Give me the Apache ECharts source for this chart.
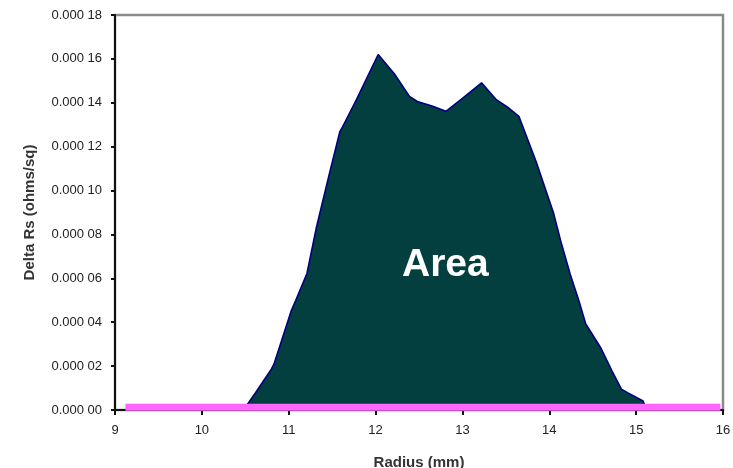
<!DOCTYPE html>
<html>
<head>
<meta charset="utf-8">
<script src="https://cdn.jsdelivr.net/npm/echarts@6/dist/echarts.min.js"></script>
<style>html,body{margin:0;padding:0;background:#fff}#c{width:733px;height:468px}</style>
</head>
<body>
<div id="c"></div>
<script>
// Radius (mm) and Delta Rs (ohms/sq)
const radius = [10.48, 10.62, 10.80, 10.83, 11.03, 11.08, 11.21, 11.32, 11.46, 11.59, 11.62, 11.77, 12.03, 12.22, 12.39, 12.48, 12.65, 12.81, 13.00, 13.22, 13.39, 13.52, 13.65, 13.85, 14.05, 14.13, 14.24, 14.34, 14.42, 14.59, 14.72, 14.83, 14.90, 15.08, 15.12];
const deltaRs = [0.0000000, 0.0000080, 0.0000186, 0.0000209, 0.0000453, 0.0000499, 0.0000622, 0.0000834, 0.0001063, 0.0001270, 0.0001290, 0.0001406, 0.0001620, 0.0001530, 0.0001429, 0.0001406, 0.0001385, 0.0001361, 0.0001420, 0.0001491, 0.0001414, 0.0001380, 0.0001338, 0.0001130, 0.0000896, 0.0000773, 0.0000620, 0.0000499, 0.0000392, 0.0000285, 0.0000180, 0.0000095, 0.0000079, 0.0000041, 0.0000000];
const baseX = [9.12, 15.97];
const baseY = [0.0000013, 0.0000013];
const xTicks = [9, 10, 11, 12, 13, 14, 15, 16];
const yTicks = [0, 0.00002, 0.00004, 0.00006, 0.00008, 0.0001, 0.00012, 0.00014, 0.00016, 0.00018];
const xTitle = 'Radius (mm)';
const yTitle = 'Delta Rs (ohms/sq)';
const areaLabel = 'Area';

const chart = echarts.init(document.getElementById('c'), null, {renderer: 'canvas'});
function fmtY(v) {
  const s = v.toFixed(5);
  return s.slice(0, 5) + ' ' + s.slice(5);
}
chart.setOption({
  animation: false,
  backgroundColor: '#ffffff',
  grid: {left: 115, right: 10, top: 15, bottom: 58, containLabel: false, outerBoundsMode: 'none', show: true, borderColor: '#8a8a8a', borderWidth: 2.5, backgroundColor: 'transparent'},
  xAxis: {
    type: 'value', min: xTicks[0], max: xTicks[xTicks.length - 1], interval: 1,
    name: xTitle, nameLocation: 'middle', nameGap: 45,
    nameTextStyle: {fontFamily: 'Liberation Sans, Arial', fontSize: 15, color: '#333', fontWeight: 'bold'},
    axisLine: {show: true, onZero: false, lineStyle: {color: '#111', width: 2}},
    axisTick: {show: true, inside: false, length: 5, lineStyle: {color: '#111', width: 2}},
    axisLabel: {fontFamily: 'Liberation Sans, Arial', fontSize: 13, color: '#222', margin: 14, formatter: v => String(v)},
    splitLine: {show: false}
  },
  yAxis: {
    type: 'value', min: 0, max: yTicks[yTicks.length - 1], interval: 0.00002,
    name: yTitle, nameLocation: 'middle', nameGap: 78, nameRotate: 90,
    nameTextStyle: {fontFamily: 'Liberation Sans, Arial', fontSize: 15, color: '#333', fontWeight: 'bold'},
    axisLine: {show: true, onZero: false, lineStyle: {color: '#111', width: 2}},
    axisTick: {show: true, inside: false, length: 4, lineStyle: {color: '#111', width: 2}},
    axisLabel: {fontFamily: 'Liberation Sans, Arial', fontSize: 13, color: '#222', margin: 13, formatter: fmtY},
    splitLine: {show: false}
  },
  series: [
    {
      type: 'line',
      data: radius.map((r, i) => [r, deltaRs[i]]),
      symbol: 'none',
      smooth: false,
      lineStyle: {color: '#000080', width: 1.6},
      areaStyle: {color: '#033f3f', opacity: 1},
      z: 2
    },
    {
      type: 'line',
      data: baseX.map((r, i) => [r, baseY[i]]),
      symbol: 'none',
      lineStyle: {color: '#ff66ff', width: 7},
      z: 3
    }
  ],
  graphic: [{
    type: 'text', left: 402, top: 246, z: 10,
    style: {text: areaLabel, fill: '#ffffff', font: 'bold 39px "Liberation Sans", Arial'}
  }]
});
</script>
</body>
</html>
